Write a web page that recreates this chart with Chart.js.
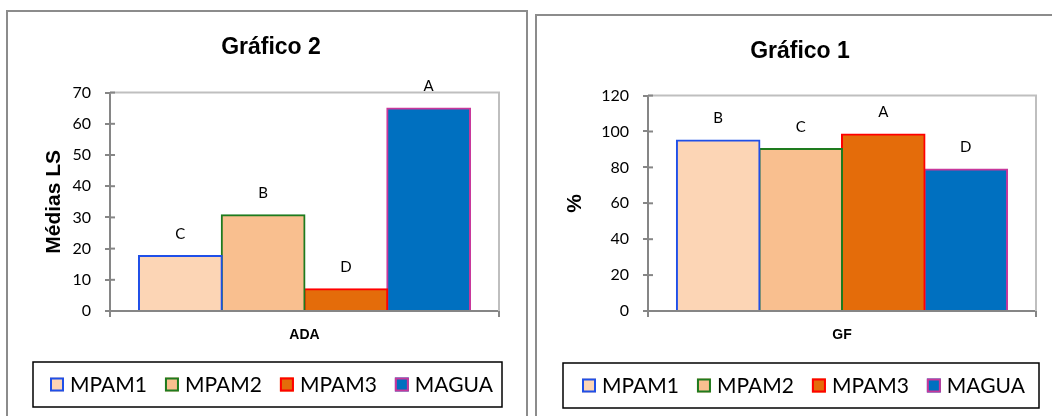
<!DOCTYPE html>
<html>
<head>
<meta charset="utf-8">
<script src="https://cdn.jsdelivr.net/npm/chart.js@4.4.1/dist/chart.umd.min.js"></script>
<style>
    body { margin: 0; background: #ffffff; width: 1052px; height: 416px; overflow: hidden; position: relative; }
    .panel { position: absolute; border: 2px solid #8c8c8c; box-sizing: border-box; background: #ffffff; }
    #panel2 { left: 6px; top: 10px; width: 522px; height: 420px; }
    #panel1 { left: 535px; top: 14px; width: 530px; height: 420px; }
    canvas { position: absolute; left: 0; top: 0; }
</style>
</head>
<body>
<div class="panel" id="panel2"><canvas id="chart2" width="518" height="404"></canvas></div>
<div class="panel" id="panel1"><canvas id="chart1" width="515" height="400"></canvas></div>
<script>
// Series shared by both charts
const seriesNames = ['MPAM1', 'MPAM2', 'MPAM3', 'MAGUA'];
const fillColors = ['#fcd5b5', '#f9bf8f', '#e46c0a', '#0070c0'];
const borderColors = ['#1f4fe8', '#1e7b1e', '#ff0000', '#c8379b'];

// Gráfico 2 (ADA)
const categories2 = ['ADA'];
const values2 = [17.6, 30.7, 7.0, 64.9];
const letters2 = ['C', 'B', 'D', 'A'];
const yTicks2 = [0, 10, 20, 30, 40, 50, 60, 70];

// Gráfico 1 (GF)
const categories1 = ['GF'];
const values1 = [95.0, 90.2, 98.3, 78.8];
const letters1 = ['B', 'C', 'A', 'D'];
const yTicks1 = [0, 20, 40, 60, 80, 100, 120];

const axisGray = '#868686';
const bodyFont = 'Lato';
const titleFont = '"Liberation Sans", Arial';

// Light gray border on top and right of the plot area
const plotBorder = {
    id: 'plotBorder',
    beforeDatasetsDraw(chart) {
        const a = chart.chartArea;
        const ctx = chart.ctx;
        ctx.save();
        ctx.strokeStyle = '#bfbfbf';
        ctx.lineWidth = 2;
        ctx.beginPath();
        ctx.moveTo(a.left, a.top);
        ctx.lineTo(a.right, a.top);
        ctx.lineTo(a.right, a.bottom);
        ctx.stroke();
        // tick marks crossing into the plot area (Excel "cross" style)
        ctx.strokeStyle = axisGray;
        const y = chart.scales.y;
        y.ticks.forEach((t, i) => {
            const py = y.getPixelForTick(i);
            ctx.beginPath();
            ctx.moveTo(a.left, py);
            ctx.lineTo(a.left + 5, py);
            ctx.stroke();
        });
        ctx.restore();
    }
};

// Letters over each bar, plus a framed legend in the Excel style
const letterLabels = {
    id: 'letterLabels',
    afterDraw(chart, args, opts) {
        const ctx = chart.ctx;
        ctx.save();
        ctx.font = '15px ' + bodyFont;
        ctx.fillStyle = '#000000';
        ctx.textAlign = 'center';
        ctx.textBaseline = 'middle';
        chart.data.datasets.forEach((ds, i) => {
            const bar = chart.getDatasetMeta(i).data[0];
            ctx.fillText(opts.letters[i], bar.x, bar.y - 22);
        });

        // legend
        const f = opts.frame;
        ctx.strokeStyle = '#000000';
        ctx.lineWidth = 1.5;
        ctx.strokeRect(f.x, f.y, f.w, f.h);
        ctx.font = '21px ' + bodyFont;
        ctx.textAlign = 'left';
        const cy = f.y + f.h / 2;
        let cx = f.x + f.inset;
        chart.data.datasets.forEach(ds => {
            ctx.fillStyle = ds.backgroundColor;
            ctx.fillRect(cx, cy - 7, 14, 14);
            ctx.strokeStyle = ds.borderColor;
            ctx.lineWidth = 2;
            ctx.strokeRect(cx + 1, cy - 6, 12, 12);
            ctx.fillStyle = '#000000';
            ctx.fillText(ds.label, cx + 20, cy + 1);
            cx += 20 + ctx.measureText(ds.label).width + 18;
        });
        ctx.restore();
    }
};

function makeChart(canvasId, categories, values, letters, yTicks, yTitle, cfg) {
    const datasets = seriesNames.map((name, i) => ({
        label: name,
        data: [values[i]],
        backgroundColor: fillColors[i],
        borderColor: borderColors[i],
        borderWidth: 2,
        inflateAmount: 1,
        barPercentage: 1.0,
        categoryPercentage: 0.851
    }));

    return new Chart(document.getElementById(canvasId), {
        type: 'bar',
        data: { labels: categories, datasets },
        plugins: [plotBorder, letterLabels],
        options: {
            responsive: false,
            animation: false,
            layout: { padding: cfg.padding },
            plugins: {
                title: {
                    display: true,
                    text: cfg.title,
                    color: '#000000',
                    font: { family: titleFont, size: 23, weight: 'bold' },
                    padding: { top: 22, bottom: cfg.titleGap }
                },
                legend: { display: false },
                tooltip: { enabled: false },
                letterLabels: { letters, frame: cfg.frame }
            },
            scales: {
                x: {
                    afterFit: scale => { scale.height = 40; },
                    grid: { display: true, drawOnChartArea: false, color: axisGray, lineWidth: 2, tickLength: 6 },
                    border: { display: true, color: axisGray, width: 2 },
                    ticks: { color: '#000000', padding: 10, font: { family: titleFont, size: 14, weight: 'bold' } }
                },
                y: {
                    min: yTicks[0],
                    max: yTicks[yTicks.length - 1],
                    afterBuildTicks: scale => { scale.ticks = yTicks.map(v => ({ value: v })); },
                    afterFit: scale => { scale.width = cfg.yWidth; },
                    grid: { display: true, drawOnChartArea: false, color: axisGray, lineWidth: 2, tickLength: 5 },
                    border: { display: true, color: axisGray, width: 2 },
                    ticks: { color: '#000000', padding: 14, font: { family: bodyFont, size: 16 } },
                    title: {
                        display: true,
                        text: yTitle,
                        color: '#000000',
                        font: { family: titleFont, size: 21, weight: 'bold' },
                        padding: { top: -1.6, bottom: 0 }
                    }
                }
            }
        }
    });
}

makeChart('chart2', categories2, values2, letters2, yTicks2, 'Médias LS', {
    title: 'Gráfico 2',
    titleGap: 31,
    padding: { left: 35, right: 27, bottom: 65, top: 0 },
    yWidth: 67,
    frame: { x: 25, y: 350, w: 469, h: 45, inset: 17 }
});

makeChart('chart1', categories1, values1, letters1, yTicks1, '%', {
    title: 'Gráfico 1',
    titleGap: 30,
    padding: { left: 27, right: 16, bottom: 65, top: 0 },
    yWidth: 84,
    frame: { x: 26, y: 347, w: 476, h: 45, inset: 19 }
});
</script>
</body>
</html>
